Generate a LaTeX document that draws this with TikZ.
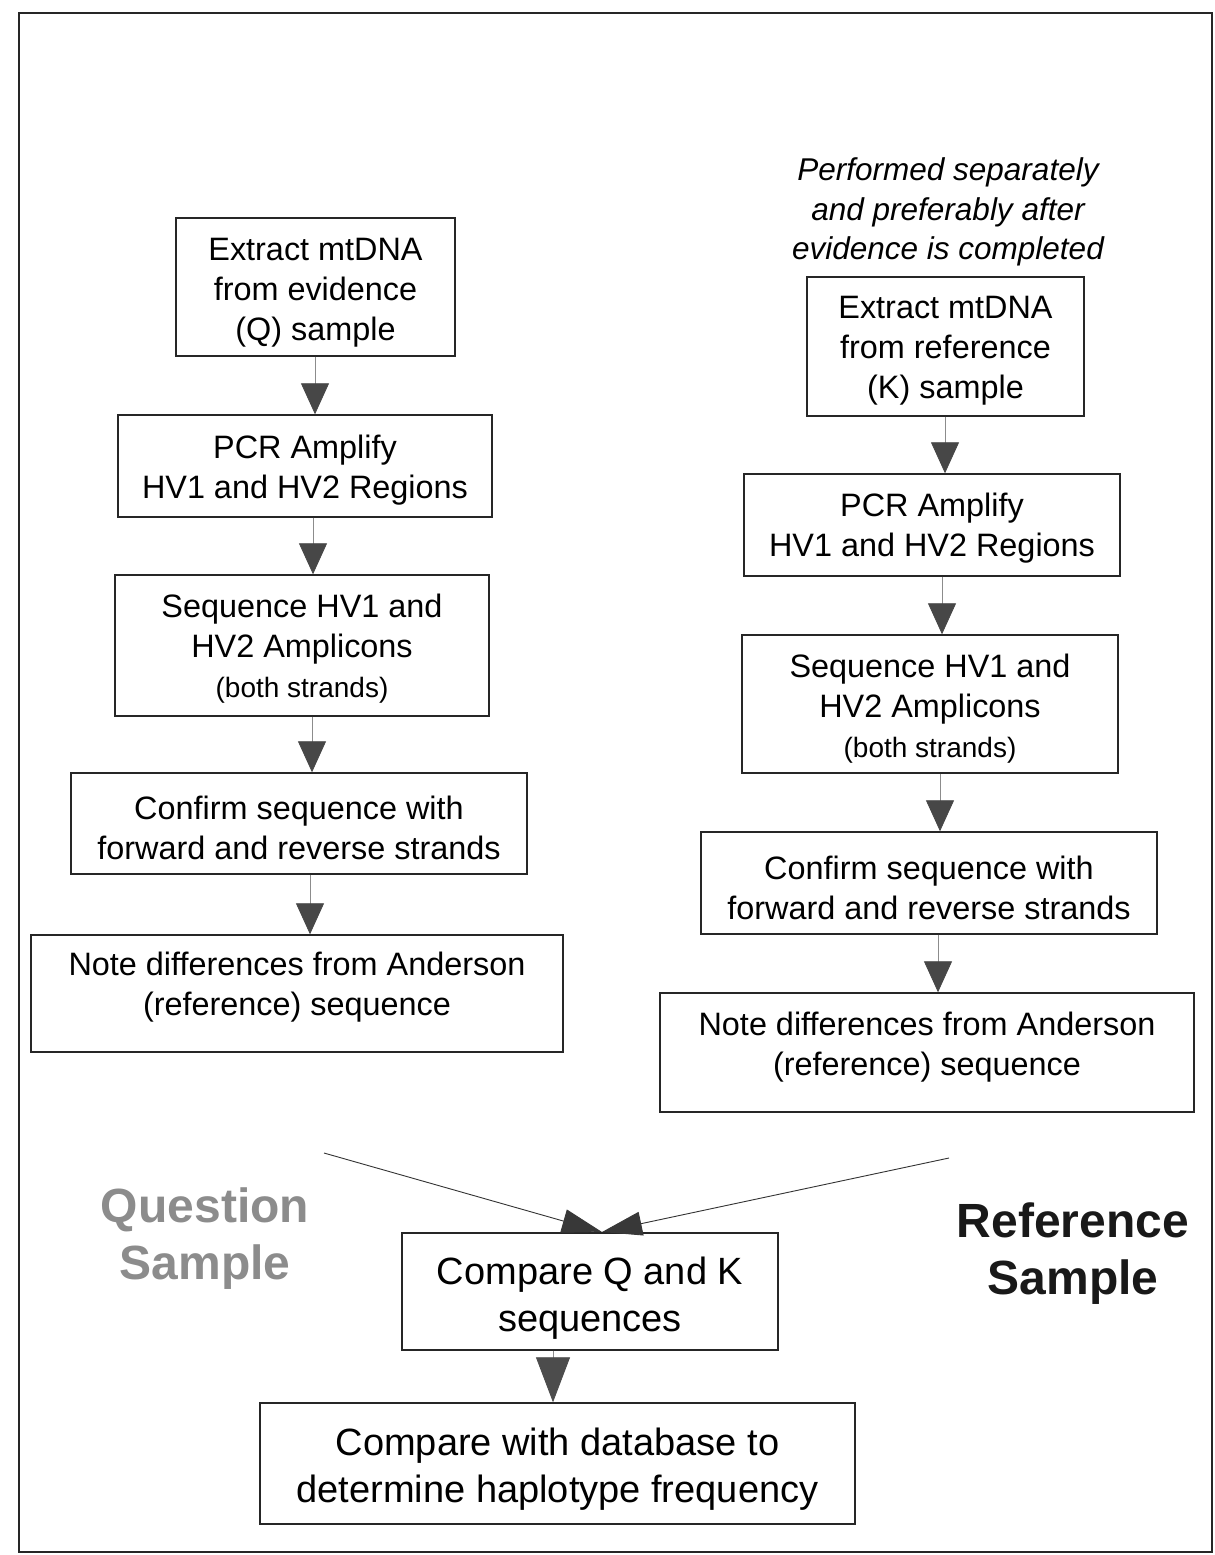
\documentclass[tikz,border=0pt]{standalone}
\usepackage{fontspec}
\setmainfont{Liberation Sans}
\usetikzlibrary{arrows.meta}
\begin{document}
\begin{tikzpicture}[x=1pt,y=-1pt,
  frame/.style={draw=black!85, line width=1.4pt, inner sep=0pt},
  txt/.style={align=center, inner sep=0pt, font=\fontsize{32.4}{40}\selectfont},
  bigtxt/.style={align=center, inner sep=0pt, font=\fontsize{38}{47}\selectfont},
  conn/.style={draw=black!45, line width=0.8pt,
    -{Triangle[width=28pt,length=31pt,fill=black!72,color=black!72]}},
  diag/.style={draw=black!80, line width=0.9pt,
    -{Triangle[width=24pt,length=40pt,fill=black!78,color=black!78]}},
  bigconn/.style={draw=black!45, line width=0.8pt,
    -{Triangle[width=34pt,length=45pt,fill=black!70,color=black!70]}},
  side/.style={align=center, inner sep=0pt, font=\bfseries\fontsize{48}{57}\selectfont}
]
\useasboundingbox (0,0) rectangle (1215,1555);
\fill[white] (0,0) rectangle (1215,1555);
\draw[line width=2pt, black!85] (19,13) rectangle (1212,1552);

% left column
\node[frame, minimum width=279pt, minimum height=138pt] (L1) at (315.5,287) {};
\node[txt] (L1t) at (315.5,293) {Extract mtDNA\\from evidence\\(Q) sample};
\node[frame, minimum width=374pt, minimum height=102pt] (L2) at (305,466) {};
\node[txt] (L2t) at (305,470.5) {PCR Amplify\\HV1 and HV2 Regions};
\node[frame, minimum width=374pt, minimum height=141pt] (L3) at (302,645.5) {};
\node[txt] (L3t) at (302,649) {Sequence HV1 and\\HV2 Amplicons\\{\fontsize{28}{40}\selectfont (both strands)}};
\node[frame, minimum width=456pt, minimum height=101pt] (L4) at (299,823.5) {};
\node[txt] (L4t) at (299,828) {Confirm sequence with\\forward and reverse strands};
\node[frame, minimum width=532pt, minimum height=117pt] (L5) at (297,993.5) {};
\node[txt] (L5t) at (297,987.5) {Note differences from Anderson\\(reference) sequence};

% right column
\node[txt, font=\itshape\fontsize{31.5}{39.5}\selectfont] (note) at (948,212)
  {Performed separately\\and preferably after\\evidence is completed};
\node[frame, minimum width=277pt, minimum height=139pt] (R1) at (945.5,346.5) {};
\node[txt] (R1t) at (945.5,351) {Extract mtDNA\\from reference\\(K) sample};
\node[frame, minimum width=376pt, minimum height=102pt] (R2) at (932,525) {};
\node[txt] (R2t) at (932,528.5) {PCR Amplify\\HV1 and HV2 Regions};
\node[frame, minimum width=376pt, minimum height=138pt] (R3) at (930,704) {};
\node[txt] (R3t) at (930,709) {Sequence HV1 and\\HV2 Amplicons\\{\fontsize{28}{40}\selectfont (both strands)}};
\node[frame, minimum width=456pt, minimum height=102pt] (R4) at (929,883) {};
\node[txt] (R4t) at (929,888) {Confirm sequence with\\forward and reverse strands};
\node[frame, minimum width=534pt, minimum height=119pt] (R5) at (927,1052.5) {};
\node[txt] (R5t) at (927,1047) {Note differences from Anderson\\(reference) sequence};

% bottom
\node[frame, minimum width=376pt, minimum height=117pt] (CQK) at (590,1291.5) {};
\node[bigtxt] (CQKt) at (590,1298) {Compare Q and K\\sequences};
\node[frame, minimum width=595pt, minimum height=121pt] (DB) at (557.5,1463.5) {};
\node[bigtxt] (DBt) at (557.5,1469) {Compare with database to\\determine haplotype frequency};

\node[side, text=black!45] (QS) at (205,1239) {Question\\Sample};
\node[side, text=black!90] (RS) at (1073,1254) {Reference\\Sample};

% connectors
\draw[conn] (315,0 |- L1.south) -- (315,0 |- L2.north);
\draw[conn] (313,0 |- L2.south) -- (313,0 |- L3.north);
\draw[conn] (312,0 |- L3.south) -- (312,0 |- L4.north);
\draw[conn] (310,0 |- L4.south) -- (310,0 |- L5.north);
\draw[conn] (945,0 |- R1.south) -- (945,0 |- R2.north);
\draw[conn] (942,0 |- R2.south) -- (942,0 |- R3.north);
\draw[conn] (940,0 |- R3.south) -- (940,0 |- R4.north);
\draw[conn] (938,0 |- R4.south) -- (938,0 |- R5.north);

\coordinate (qstart) at (324,1153);
\coordinate (kstart) at (949,1158);
\coordinate (meet) at (602,1232);
\draw[diag] (qstart) -- (meet);
\draw[diag] (kstart) -- (meet);
\draw[bigconn] (553,0 |- CQK.south) -- (553,0 |- DB.north);
\end{tikzpicture}
\end{document}
